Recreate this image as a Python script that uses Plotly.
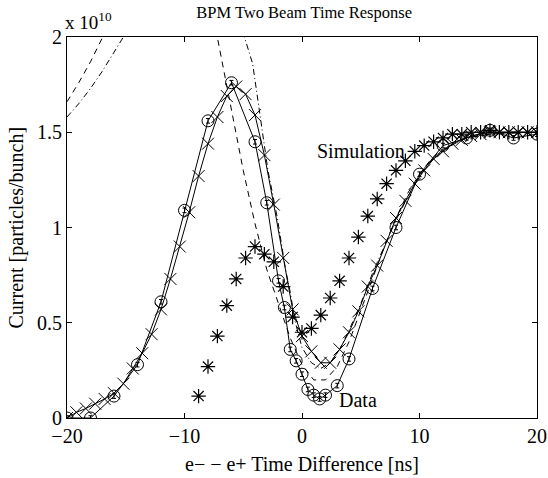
import plotly.graph_objects as go

# ---- data (units: x in ns, y in 1e10 particles/bunch) ----
data_x = [-20, -18, -16, -14, -12, -10, -8, -6, -4, -3, -2, -1.5, -1, -0.5, 0, 0.5, 1, 1.5, 2, 3, 4, 6, 8, 10, 12, 14, 16, 18, 20]
data_y = [0.0, 0.0, 0.115, 0.28, 0.61, 1.09, 1.56, 1.76, 1.45, 1.13, 0.72, 0.58, 0.36, 0.30, 0.23, 0.15, 0.12, 0.10, 0.12, 0.17, 0.31, 0.68, 1.00, 1.28, 1.43, 1.47, 1.51, 1.47, 1.49]
data_err = [0.012] * len(data_x)

simx_x = [-20.0, -19.2, -18.4, -17.6, -16.8, -16.0, -15.2, -14.4, -13.6, -12.8, -12.0, -11.2, -10.4, -9.6, -8.8, -8.0,
          -7.2, -6.4, -5.6, -4.8, -4.0, -3.2, -2.4, -1.6, -0.8, 0.0, 0.8, 1.6, 2.4, 3.2, 4.0, 4.8, 5.6, 6.4, 7.2,
          8.0, 8.8, 9.6, 10.4, 11.2, 12.0, 12.8, 13.6, 14.4, 15.2, 16.0, 16.8, 17.6, 18.4, 19.2, 20.0]
simx_y = [0.00, 0.03, 0.05, 0.075, 0.10, 0.13, 0.18, 0.26, 0.34, 0.44, 0.57, 0.73, 0.90, 1.08, 1.27, 1.44,
          1.58, 1.69, 1.74, 1.70, 1.59, 1.38, 1.12, 0.84, 0.57, 0.43, 0.35, 0.29, 0.29, 0.36, 0.45, 0.56, 0.69, 0.80, 0.93,
          1.05, 1.14, 1.23, 1.30, 1.36, 1.40, 1.44, 1.46, 1.48, 1.49, 1.50, 1.50, 1.50, 1.50, 1.50, 1.50]

star_x = [-8.8, -8.0, -7.2, -6.4, -5.6, -4.8, -4.0, -3.2, -2.4, -1.6, -0.8, 0.0, 0.8, 1.6, 2.4, 3.2, 4.0, 4.8,
          5.6, 6.4, 7.2, 8.0, 8.8, 9.6, 10.4, 11.2, 12.0, 12.8, 13.6, 14.4, 15.2, 16.0, 16.8, 17.6, 18.4, 19.2, 20.0]
star_y = [0.115, 0.27, 0.43, 0.59, 0.73, 0.84, 0.90, 0.86, 0.82, 0.69, 0.53, 0.45, 0.47, 0.54, 0.63, 0.72, 0.84, 0.95,
          1.06, 1.15, 1.23, 1.30, 1.35, 1.40, 1.43, 1.45, 1.47, 1.49, 1.49, 1.50, 1.50, 1.51, 1.50, 1.50, 1.50, 1.50, 1.50]

dash_x = [-20, -19, -18, -17, -16, -15, -14, -12, -10, -8, -7, -6, -5, -4, -3, -2, -1, 0, 1, 2, 3, 4, 5, 6, 7, 8, 9, 10, 11, 12, 14, 16, 18, 20]
dash_y = [1.66, 1.76, 1.87, 1.99, 2.12, 2.25, 2.38, 2.60, 2.62, 2.25, 1.93, 1.60, 1.30, 1.02, 0.78, 0.60, 0.42, 0.28, 0.20, 0.20, 0.27, 0.40, 0.56, 0.73, 0.90, 1.05, 1.18, 1.28, 1.36, 1.41, 1.47, 1.49, 1.50, 1.50]

dashdot_x = [-20, -19, -18, -17, -16, -15, -14, -12, -10, -8, -6, -5, -4.2, -3.4, -2.9, -2.1, -1.4, -1.0, -0.6, 0, 0.8, 1.6, 2.4, 3.2, 4, 5, 6, 7, 8, 9, 10, 11, 12, 14, 16, 20]
dashdot_y = [1.58, 1.65, 1.73, 1.82, 1.92, 2.02, 2.15, 2.40, 2.55, 2.45, 2.20, 2.02, 1.86, 1.51, 1.30, 1.05, 0.78, 0.66, 0.51, 0.37, 0.29, 0.26, 0.29, 0.36, 0.46, 0.60, 0.76, 0.90, 1.04, 1.16, 1.27, 1.35, 1.41, 1.47, 1.49, 1.50]

x_ticks = [-20, -10, 0, 10, 20]
y_ticks = [0, 0.5, 1, 1.5, 2]
y_ticktext = ["0", "0.5", "1", "1.5", "2"]

FONT = "Liberation Serif, Times New Roman, serif"

fig = go.Figure()

fig.add_trace(go.Scatter(x=dash_x, y=dash_y, mode="lines",
                         line=dict(color="black", width=1, dash="6px,5px"), hoverinfo="skip"))
fig.add_trace(go.Scatter(x=dashdot_x, y=dashdot_y, mode="lines",
                         line=dict(color="black", width=1, dash="6px,3px,1px,3px"), hoverinfo="skip"))
fig.add_trace(go.Scatter(x=simx_x, y=simx_y, mode="lines+markers",
                         line=dict(color="black", width=1),
                         marker=dict(symbol="x-thin-open", size=12, color="black",
                                     line=dict(color="black", width=1))))
fig.add_trace(go.Scatter(x=star_x, y=star_y, mode="markers",
                         marker=dict(symbol="asterisk-open", size=12, color="black",
                                     line=dict(color="black", width=1.2))))
fig.add_trace(go.Scatter(x=data_x, y=data_y, mode="lines+markers",
                         line=dict(color="black", width=1),
                         error_y=dict(type="data", array=data_err, color="black", thickness=1, width=2),
                         marker=dict(symbol="circle-open", size=12, color="black",
                                     line=dict(color="black", width=1))))

fig.add_annotation(x=8.9, y=1.40, xref="x", yref="y", text="Simulation", showarrow=False,
                   xanchor="right", yanchor="middle", font=dict(family=FONT, size=20, color="black"))
fig.add_annotation(x=2.95, y=0.095, xref="x", yref="y", text="Data", showarrow=False,
                   xanchor="left", yanchor="middle", font=dict(family=FONT, size=20, color="black"))
fig.add_annotation(x=0, y=1, xref="paper", yref="paper", text="x 10<sup>10</sup>", showarrow=False,
                   xanchor="left", yanchor="bottom", yshift=2, xshift=-4,
                   font=dict(family=FONT, size=19, color="black"))
# axis titles
fig.add_annotation(x=0.5, y=0, xref="paper", yref="paper", text="e− − e+ Time Difference [ns]",
                   showarrow=False, xanchor="center", yanchor="middle", yshift=-46,
                   font=dict(family=FONT, size=20, color="black"))
fig.add_annotation(x=0, y=0.5, xref="paper", yref="paper", text="Current [particles/bunch]",
                   showarrow=False, xanchor="center", yanchor="middle", xshift=-51, textangle=-90,
                   font=dict(family=FONT, size=20, color="black"))

axis_common = dict(showline=True, linecolor="black", linewidth=1, mirror="ticks",
                   ticks="inside", ticklen=5, tickcolor="black", tickwidth=1,
                   showgrid=False, zeroline=False, automargin=False,
                   tickfont=dict(family=FONT, size=20, color="black"))

fig.update_layout(
    width=548, height=478,
    margin=dict(l=67, r=11, t=37, b=60),
    paper_bgcolor="white", plot_bgcolor="white",
    showlegend=False,
    title=dict(text="BPM Two Beam Time Response", x=0.555, xanchor="center", y=0.975, yanchor="middle",
               font=dict(family=FONT, size=16.5, color="black")),
    xaxis=dict(range=[-20, 20], tickvals=x_ticks, **axis_common),
    yaxis=dict(range=[0, 2], tickvals=y_ticks, ticktext=y_ticktext, **axis_common),
)

# remove the default page margin so the figure sits at the window's top-left corner
fig.write_html("out.html", config={"displayModeBar": False},
               post_script="document.body.style.margin='0px';document.body.style.overflow='hidden';")
